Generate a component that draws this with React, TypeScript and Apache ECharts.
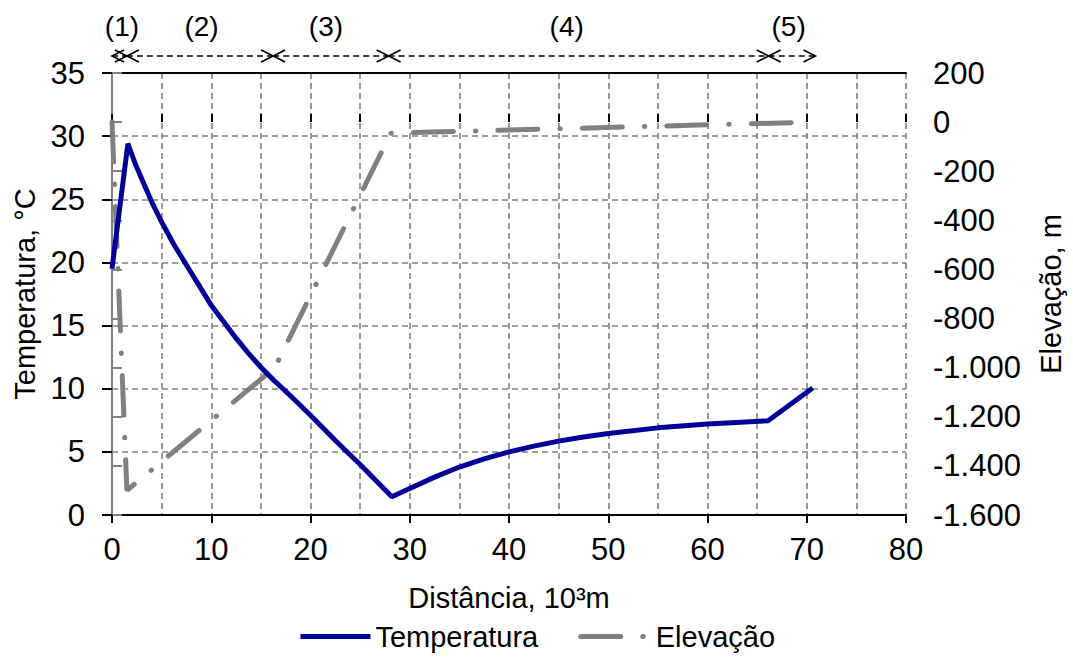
import React, { useEffect, useRef } from "react";
import * as echarts from "echarts";

// Temperature profile (distance in 10^3 m, temperature in °C)
const tempDist = [0, 1.6, 2.3, 3, 4, 5, 6.25, 7.5, 8.75, 10, 11.25, 12.5, 13.75, 15, 16.25, 17.5, 20, 22.5, 25, 28.2, 30, 32.5, 35, 37.5, 40, 42.5, 45, 47.5, 50, 55, 60, 66.1, 70.6];
const tempVals = [19.5, 29.4, 27.9, 26.6, 24.8, 23.2, 21.4, 19.8, 18.2, 16.6, 15.3, 14.0, 12.8, 11.7, 10.7, 9.8, 7.9, 5.9, 4.0, 1.45, 2.1, 3.0, 3.8, 4.45, 5.0, 5.45, 5.85, 6.17, 6.45, 6.9, 7.2, 7.47, 10.05];

// Elevation profile (distance in 10^3 m, elevation in m)
const elevDist = [0, 1.5, 16.4, 28.1, 70.5];
const elevVals = [0, -1500, -1000, -45, 0];

// Sections marked on top
const sectionStart = [0, 1.5, 16.2, 27.8, 66];
const sectionEnd = [1.5, 16.2, 27.8, 66, 70.7];
const sectionLabelX = [1.0, 9.0, 21.5, 45.7, 68.0];
const sectionLabels = ["(1)", "(2)", "(3)", "(4)", "(5)"];

const FONT = "'Liberation Sans', Arial, sans-serif";

const fmtElev = (v: number) => {
  const a = Math.abs(v);
  const s = a >= 1000 ? Math.floor(a / 1000) + "." + String(a % 1000).padStart(3, "0") : String(a);
  return (v < 0 ? "-" : "") + s;
};

export default function App() {
  const ref = useRef<HTMLDivElement>(null);
  useEffect(() => {
    if (!ref.current) return;
    const chart = echarts.init(ref.current, null, { renderer: "svg" });
    const gridDash = { color: "#808080", width: 1.6, type: [6, 4] as number[] };
    const option: any = {
      animation: false,
      backgroundColor: "#fff",
      textStyle: { fontFamily: FONT, color: "#000" },
      grid: [
        { left: 112, right: 165, top: 73, bottom: 142 },
        { left: 112, right: 165, top: 0, height: 73 },
      ],
      legend: {
        left: "center",
        top: 617,
        itemWidth: 70,
        itemHeight: 14,
        itemGap: 40,
        itemStyle: { color: "rgba(0,0,0,0)", borderWidth: 0, opacity: 0 },
        lineStyle: { width: 5 },
        textStyle: { fontSize: 29, fontFamily: FONT, color: "#000" },
        data: ["Temperatura", "Elevação"],
      },
      xAxis: [
        {
          type: "value",
          gridIndex: 0,
          min: 0,
          max: 80,
          interval: 10,
          name: "Distância, 10³m",
          nameLocation: "middle",
          nameGap: 68,
          nameTextStyle: { fontSize: 29, fontFamily: FONT, color: "#000" },
          axisLine: { show: true, lineStyle: { color: "#000", width: 2 } },
          axisTick: { show: true, inside: false, length: 8, lineStyle: { color: "#000", width: 2 } },
          axisLabel: { fontSize: 31, fontFamily: FONT, color: "#000", margin: 19 },
          splitLine: { show: true, lineStyle: gridDash },
          minorTick: { show: false, splitNumber: 2 },
          minorSplitLine: { show: true, lineStyle: gridDash },
        },
        {
          type: "value",
          gridIndex: 0,
          position: "bottom",
          min: 0,
          max: 80,
          interval: 5,
          axisLine: { show: false },
          axisTick: { show: true, inside: true, length: 8, lineStyle: { color: "#000", width: 2 } },
          axisLabel: { show: false },
          splitLine: { show: false },
        },
        {
          type: "value",
          gridIndex: 0,
          position: "top",
          min: 0,
          max: 80,
          interval: 10,
          axisLine: { show: true, lineStyle: { color: "#000", width: 2 } },
          axisTick: { show: false },
          axisLabel: { show: false },
          splitLine: { show: false },
        },
        {
          type: "value",
          gridIndex: 1,
          min: 0,
          max: 80,
          show: false,
        },
      ],
      yAxis: [
        {
          type: "value",
          gridIndex: 0,
          min: 0,
          max: 35,
          interval: 5,
          position: "left",
          name: "Temperatura, °C",
          nameLocation: "middle",
          nameRotate: 90,
          nameGap: 72,
          nameTextStyle: { fontSize: 29, fontFamily: FONT, color: "#000" },
          axisLine: { show: true, lineStyle: { color: "#000", width: 2 } },
          axisTick: { show: true, inside: false, length: 10, lineStyle: { color: "#000", width: 2 } },
          axisLabel: { fontSize: 31, fontFamily: FONT, color: "#000", margin: 27 },
          splitLine: { show: true, lineStyle: gridDash },
        },
        {
          type: "value",
          gridIndex: 0,
          min: -1600,
          max: 200,
          interval: 200,
          position: "right",
          name: "Elevação, m",
          nameLocation: "middle",
          nameRotate: 90,
          nameGap: 130,
          nameTextStyle: { fontSize: 29, fontFamily: FONT, color: "#000" },
          axisLine: { show: true, lineStyle: { color: "#808080", width: 2 } },
          axisTick: { show: true, inside: false, length: 10, lineStyle: { color: "#808080", width: 2 } },
          axisLabel: { fontSize: 31, fontFamily: FONT, color: "#000", margin: 27, formatter: fmtElev },
          splitLine: { show: false },
        },
        {
          type: "value",
          gridIndex: 1,
          min: 0,
          max: 1,
          show: false,
        },
      ],
      series: [
        {
          name: "Temperatura",
          type: "line",
          xAxisIndex: 0,
          yAxisIndex: 0,
          symbol: "none",
          z: 3,
          lineStyle: { color: "#000099", width: 5 },
          itemStyle: { color: "#000099" },
          data: tempDist.map((d, i) => [d, tempVals[i]]),
        },
        {
          name: "Elevação",
          type: "line",
          xAxisIndex: 0,
          yAxisIndex: 1,
          symbol: "none",
          z: 2,
          lineStyle: { color: "#808080", width: 5, type: [40, 22, 0.5, 22], cap: "round" },
          itemStyle: { color: "#808080" },
          data: elevDist.map((d, i) => [d, elevVals[i]]),
        },
        {
          type: "custom",
          xAxisIndex: 3,
          yAxisIndex: 2,
          silent: true,
          data: sectionStart.map((s, i) => [s, sectionEnd[i], sectionLabelX[i]]),
          renderItem: (params: any, api: any) => {
            const cs = params.coordSys;
            const x0 = api.coord([api.value(0), 0])[0];
            const x1 = api.coord([api.value(1), 0])[0];
            const xl = api.coord([api.value(2), 0])[0];
            const ya = cs.y + 56;
            const yl = cs.y + 26;
            const st = { stroke: "#000", lineWidth: 1.6, fill: "none" };
            return {
              type: "group",
              children: [
                { type: "line", shape: { x1: x0, y1: ya, x2: x1, y2: ya }, style: { stroke: "#000", lineWidth: 1.6, lineDash: [6, 4] } },
                { type: "polyline", shape: { points: [[x0 + 12, ya - 6], [x0, ya], [x0 + 12, ya + 6]] }, style: st },
                { type: "polyline", shape: { points: [[x1 - 12, ya - 6], [x1, ya], [x1 - 12, ya + 6]] }, style: st },
                {
                  type: "text",
                  x: xl,
                  y: yl,
                  style: { text: sectionLabels[params.dataIndex], fontSize: 28, fontFamily: FONT, fill: "#000", align: "center", verticalAlign: "middle" },
                },
              ],
            };
          },
        },
      ],
    };
    chart.setOption(option);
    return () => chart.dispose();
  }, []);
  return <div ref={ref} style={{ position: "fixed", left: 0, top: 0, width: 1073, height: 657, background: "#fff" }} />;
}
